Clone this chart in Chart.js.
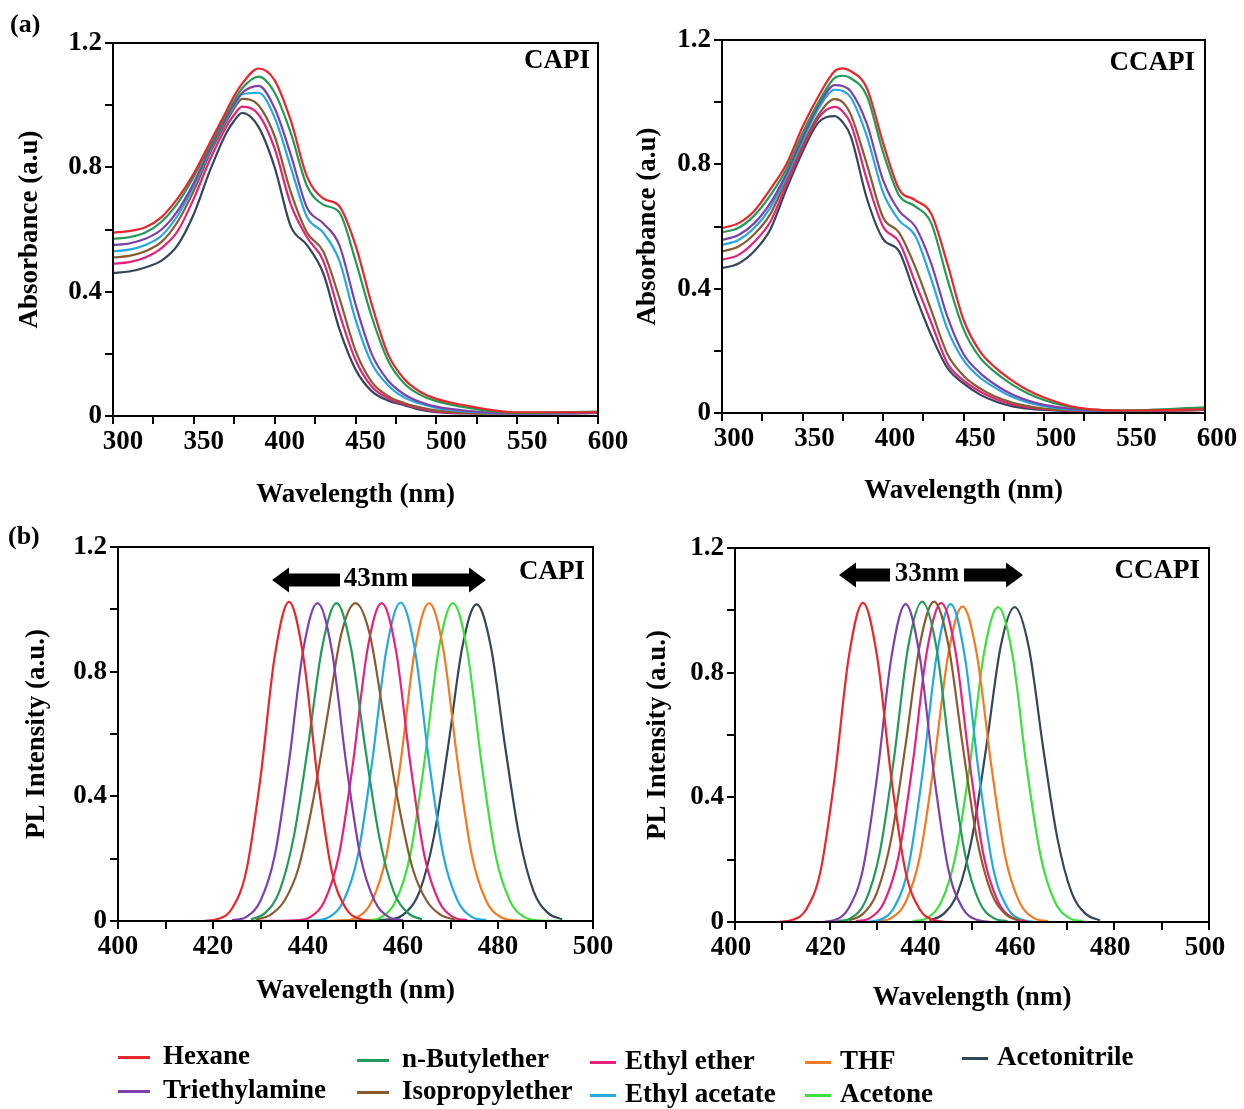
<!DOCTYPE html>
<html>
<head>
<meta charset="utf-8">
<script src="https://cdn.jsdelivr.net/npm/chart.js@4.4.1/dist/chart.umd.min.js"></script>
<style>
  body { margin: 0; background: #fff; width: 1244px; height: 1109px; position: relative; overflow: hidden;
         font-family: "Liberation Serif", "Times New Roman", serif; font-weight: bold; color: #000; }
  .plot { position: absolute; }
  .txt { position: absolute; white-space: nowrap; font-size: 27px; line-height: 1; }
  .swatch { position: absolute; height: 3px; width: 32px; }
  svg { position: absolute; left: 0; top: 0; }
</style>
</head>
<body>
<div class="plot" id="boxAbsCapi"><canvas id="absCapi"></canvas></div>
<div class="plot" id="boxAbsCcapi"><canvas id="absCcapi"></canvas></div>
<div class="plot" id="boxPlCapi"><canvas id="plCapi"></canvas></div>
<div class="plot" id="boxPlCcapi"><canvas id="plCcapi"></canvas></div>
<svg id="arrows" width="1244" height="1109"></svg>
<script>
// ---- data ----
const solvents = ["Hexane", "Triethylamine", "n-Butylether", "Isopropylether", "Ethyl ether",
                  "Ethyl acetate", "THF", "Acetone", "Acetonitrile"];
const solventColors = ["#e8262b", "#8040a8", "#229a58", "#8a5a30", "#e5217a",
                       "#25a8e0", "#f27a22", "#3ee03e", "#34465a"];

// absorbance, wavelength in nm
const absWl = [300, 310, 320, 330, 340, 350, 360, 370, 375, 380, 390, 400, 410, 420, 430, 440, 450, 460, 470, 480, 490, 500, 520, 550, 600];

const absCapiHexane         = [0.59, 0.595, 0.607, 0.64, 0.70, 0.78, 0.88, 0.98, 1.03, 1.07, 1.118, 1.08, 0.95, 0.77, 0.70, 0.675, 0.55, 0.36, 0.20, 0.12, 0.078, 0.055, 0.032, 0.012, 0.012];
const absCapiNButylether    = [0.57, 0.575, 0.59, 0.625, 0.685, 0.77, 0.87, 0.97, 1.015, 1.055, 1.092, 1.04, 0.91, 0.74, 0.68, 0.655, 0.50, 0.32, 0.18, 0.105, 0.068, 0.048, 0.026, 0.01, 0.014];
const absCapiTriethylamine  = [0.55, 0.555, 0.57, 0.60, 0.66, 0.75, 0.86, 0.96, 1.005, 1.04, 1.062, 0.99, 0.84, 0.67, 0.62, 0.55, 0.36, 0.20, 0.115, 0.07, 0.045, 0.03, 0.016, 0.008, 0.01];
const absCapiEthylAcetate   = [0.53, 0.535, 0.55, 0.58, 0.645, 0.74, 0.855, 0.955, 0.998, 1.035, 1.04, 0.96, 0.80, 0.64, 0.59, 0.50, 0.31, 0.17, 0.10, 0.06, 0.04, 0.026, 0.014, 0.008, 0.01];
const absCapiIsopropylether = [0.51, 0.515, 0.53, 0.56, 0.625, 0.725, 0.845, 0.945, 0.99, 1.02, 1.00, 0.90, 0.72, 0.59, 0.53, 0.38, 0.21, 0.11, 0.065, 0.042, 0.028, 0.018, 0.01, 0.008, 0.01];
const absCapiEthylEther     = [0.49, 0.495, 0.51, 0.54, 0.595, 0.70, 0.825, 0.93, 0.97, 0.995, 0.97, 0.86, 0.68, 0.575, 0.50, 0.33, 0.18, 0.095, 0.058, 0.038, 0.024, 0.015, 0.009, 0.008, 0.01];
const absCapiAcetonitrile   = [0.46, 0.465, 0.478, 0.50, 0.55, 0.65, 0.79, 0.91, 0.95, 0.975, 0.93, 0.80, 0.61, 0.55, 0.46, 0.28, 0.15, 0.08, 0.05, 0.035, 0.02, 0.012, 0.008, 0.008, 0.01];

const absCcapiHexane         = [0.595, 0.61, 0.65, 0.72, 0.80, 0.92, 1.02, 1.10, 1.109, 1.10, 1.045, 0.87, 0.72, 0.685, 0.64, 0.48, 0.30, 0.20, 0.145, 0.105, 0.073, 0.05, 0.018, 0.008, 0.012];
const absCcapiNButylether    = [0.581, 0.595, 0.635, 0.70, 0.785, 0.90, 1.00, 1.078, 1.085, 1.077, 1.02, 0.84, 0.70, 0.665, 0.61, 0.43, 0.27, 0.18, 0.13, 0.092, 0.063, 0.042, 0.016, 0.008, 0.018];
const absCcapiTriethylamine  = [0.557, 0.572, 0.61, 0.675, 0.77, 0.885, 0.99, 1.055, 1.052, 1.035, 0.93, 0.75, 0.65, 0.60, 0.48, 0.31, 0.19, 0.13, 0.09, 0.06, 0.04, 0.026, 0.012, 0.007, 0.012];
const absCcapiEthylAcetate   = [0.541, 0.556, 0.595, 0.66, 0.76, 0.875, 0.98, 1.04, 1.036, 1.015, 0.89, 0.71, 0.62, 0.57, 0.43, 0.27, 0.17, 0.115, 0.08, 0.052, 0.034, 0.022, 0.01, 0.007, 0.012];
const absCcapiIsopropylether = [0.52, 0.535, 0.575, 0.64, 0.75, 0.86, 0.96, 1.01, 1.0, 0.96, 0.80, 0.63, 0.58, 0.47, 0.33, 0.19, 0.12, 0.08, 0.052, 0.034, 0.022, 0.014, 0.008, 0.006, 0.01];
const absCcapiEthylEther     = [0.493, 0.508, 0.55, 0.615, 0.735, 0.85, 0.95, 0.985, 0.97, 0.93, 0.75, 0.60, 0.55, 0.42, 0.29, 0.16, 0.105, 0.07, 0.045, 0.028, 0.018, 0.012, 0.007, 0.006, 0.01];
const absCcapiAcetonitrile   = [0.466, 0.48, 0.52, 0.59, 0.72, 0.84, 0.935, 0.955, 0.935, 0.89, 0.69, 0.56, 0.52, 0.38, 0.25, 0.145, 0.095, 0.06, 0.037, 0.022, 0.014, 0.01, 0.006, 0.006, 0.01];

// photoluminescence, [wavelength nm, intensity]
const plCapiHexane = [[418,0],[421,0.006],[424,0.04],[427,0.16],[430,0.46],[433,0.85],[436,1.024],[439,0.85],[442,0.46],[445,0.16],[448,0.04],[451,0.006],[454,0]];
const plCapiTriethylamine = [[424,0.002],[427,0.013],[430,0.065],[433,0.21],[436,0.51],[439,0.87],[442,1.02],[445,0.87],[448,0.51],[451,0.21],[454,0.065],[457,0.013],[460,0.002]];
const plCapiNButylether = [[428,0.005],[431,0.026],[434,0.096],[437,0.27],[440,0.56],[443,0.88],[446,1.02],[449,0.88],[452,0.56],[455,0.27],[458,0.096],[461,0.026],[464,0.005]];
const plCapiIsopropylether = [[429,0.004],[432,0.019],[435,0.064],[438,0.17],[441,0.38],[444,0.65],[447,0.92],[450,1.02],[453,0.92],[456,0.65],[459,0.38],[462,0.17],[465,0.064],[468,0.019],[471,0.004]];
const plCapiEthylEther = [[429,0],[437.5,0.002],[440.5,0.013],[443.5,0.065],[446.5,0.21],[449.5,0.51],[452.5,0.87],[455.5,1.02],[458.5,0.87],[461.5,0.51],[464.5,0.21],[467.5,0.065],[470.5,0.013],[473.5,0.002]];
const plCapiEthylAcetate = [[436,0],[441.5,0.002],[444.5,0.013],[447.5,0.065],[450.5,0.21],[453.5,0.51],[456.5,0.87],[459.5,1.022],[462.5,0.87],[465.5,0.51],[468.5,0.21],[471.5,0.065],[474.5,0.013],[477.5,0.002]];
const plCapiThf = [[438,0],[447.5,0.002],[450.5,0.013],[453.5,0.065],[456.5,0.21],[459.5,0.51],[462.5,0.87],[465.5,1.02],[468.5,0.87],[471.5,0.51],[474.5,0.21],[477.5,0.065],[480.5,0.013],[483.5,0.002],[486,0]];
const plCapiAcetone = [[446,0],[452.5,0.002],[455.5,0.013],[458.5,0.065],[461.5,0.21],[464.5,0.51],[467.5,0.87],[470.5,1.02],[473.5,0.87],[476.5,0.51],[479.5,0.21],[482.5,0.065],[485.5,0.013],[488.5,0.002],[494,0]];
const plCapiAcetonitrile = [[445,0],[457.5,0.005],[460.5,0.026],[463.5,0.095],[466.5,0.27],[469.5,0.56],[472.5,0.88],[475.5,1.016],[478.5,0.88],[481.5,0.56],[484.5,0.27],[487.5,0.095],[490.5,0.026],[493.5,0.005]];

const plCcapiHexane = [[409,0],[412,0.006],[415,0.04],[418,0.16],[421,0.46],[424,0.85],[427,1.024],[430,0.85],[433,0.46],[436,0.16],[439,0.04],[442,0.006],[445,0],[449,0]];
const plCcapiTriethylamine = [[418,0],[421,0.006],[424,0.045],[427,0.17],[430,0.47],[433,0.85],[436,1.02],[439,0.85],[442,0.47],[445,0.17],[448,0.045],[451,0.007],[454,0]];
const plCcapiNButylether = [[421.5,0.002],[424.5,0.013],[427.5,0.066],[430.5,0.22],[433.5,0.52],[436.5,0.88],[439.5,1.028],[442.5,0.88],[445.5,0.52],[448.5,0.22],[451.5,0.066],[454.5,0.013],[457.5,0.002]];
const plCcapiIsopropylether = [[424,0.005],[427,0.026],[430,0.097],[433,0.27],[436,0.57],[439,0.89],[442,1.028],[445,0.89],[448,0.57],[451,0.27],[454,0.097],[457,0.026],[460,0.005]];
const plCcapiEthylEther = [[425.5,0.002],[428.5,0.013],[431.5,0.065],[434.5,0.21],[437.5,0.51],[440.5,0.87],[443.5,1.024],[446.5,0.87],[449.5,0.51],[452.5,0.21],[455.5,0.065],[458.5,0.013],[461.5,0.002]];
const plCcapiEthylAcetate = [[427.5,0],[430.5,0.007],[433.5,0.045],[436.5,0.17],[439.5,0.47],[442.5,0.85],[445.5,1.02],[448.5,0.85],[451.5,0.47],[454.5,0.17],[457.5,0.045],[460.5,0.007],[463.5,0]];
const plCcapiThf = [[430,0.002],[433,0.013],[436,0.064],[439,0.21],[442,0.51],[445,0.86],[448,1.013],[451,0.86],[454,0.51],[457,0.21],[460,0.064],[463,0.013],[466,0.002]];
const plCcapiAcetone = [[437.5,0.002],[440.5,0.013],[443.5,0.064],[446.5,0.21],[449.5,0.5],[452.5,0.86],[455.5,1.01],[458.5,0.86],[461.5,0.5],[464.5,0.21],[467.5,0.064],[470.5,0.013],[473.5,0.002]];
const plCcapiAcetonitrile = [[441,0.005],[444,0.026],[447,0.095],[450,0.27],[453,0.56],[456,0.88],[459,1.01],[462,0.88],[465,0.56],[468,0.27],[471,0.095],[474,0.026],[477,0.005]];

// ---- drawing ----
const FONT = { family: '"Liberation Serif", "Times New Roman", serif', weight: 'bold', size: 27 };
const HALF_LH = 16;

const color = name => solventColors[solvents.indexOf(name)];
const lineSet = (name, points) => ({
  label: name, data: points, borderColor: color(name), borderWidth: 2.2,
  pointRadius: 0, fill: false, cubicInterpolationMode: 'monotone'
});
const absSet = (name, values) => lineSet(name, absWl.map((x, i) => ({ x, y: values[i] })));
const plSet = (name, pairs) => lineSet(name, pairs.map(([x, y]) => ({ x, y })));

const frame = {
  id: 'frame',
  afterDatasetsDraw(chart) {
    const { ctx, chartArea: a } = chart;
    ctx.save();
    ctx.strokeStyle = '#000';
    ctx.lineWidth = 2;
    ctx.strokeRect(a.left, a.top, a.right - a.left, a.bottom - a.top);
    ctx.restore();
  }
};

function makeChart(canvasId, boxId, p, datasets) {
  const left = Math.round(p.yTitleX - HALF_LH);
  const top = p.plot.t - 20;
  const yW = p.plot.l - left;
  const xH = Math.round(p.xTitleY + HALF_LH - p.plot.b);
  const box = document.getElementById(boxId);
  box.style.left = left + 'px';
  box.style.top = top + 'px';
  box.style.width = (p.plot.r + p.padRight - left) + 'px';
  box.style.height = (p.plot.b + xH - top) + 'px';

  new Chart(document.getElementById(canvasId), {
    type: 'line',
    data: { datasets },
    plugins: [frame],
    options: {
      responsive: true, maintainAspectRatio: false, animation: false,
      layout: { padding: { left: 0, top: 20, right: p.padRight, bottom: 0 } },
      plugins: { legend: { display: false }, tooltip: { enabled: false } },
      scales: {
        x: {
          type: 'linear', min: p.xMin, max: p.xMax,
          afterFit: s => { s.height = xH; },
          ticks: {
            stepSize: p.xStep, autoSkip: false, maxRotation: 0, labelOffset: p.labelOffset,
            padding: 2, color: '#000', font: FONT,
            callback: v => (v % p.xMajor === 0 ? String(v) : '')
          },
          grid: { drawOnChartArea: false, color: '#000', lineWidth: 2, tickLength: 8 },
          border: { color: '#000', width: 2 },
          title: { display: true, text: 'Wavelength (nm)', color: '#000', font: FONT, padding: 0 }
        },
        y: {
          min: 0, max: 1.2,
          afterFit: s => { s.width = yW; },
          ticks: {
            stepSize: 0.2, autoSkip: false, padding: 3, color: '#000', font: FONT,
            callback: v => {
              const k = Math.round(v * 10);
              return k % 4 === 0 ? (k === 0 ? '0' : (k / 10).toFixed(1)) : '';
            }
          },
          grid: { drawOnChartArea: false, color: '#000', lineWidth: 2, tickLength: 8 },
          border: { color: '#000', width: 2 },
          title: { display: true, text: p.yTitle, color: '#000', font: FONT, padding: 0 }
        }
      }
    }
  });
}

makeChart('absCapi', 'boxAbsCapi',
  { plot: { l: 113, t: 43, r: 598, b: 416 }, yTitleX: 30, xTitleY: 495, padRight: 40,
    xMin: 300, xMax: 600, xStep: 25, xMajor: 50, labelOffset: 10, yTitle: 'Absorbance (a.u)' },
  [absSet('Hexane', absCapiHexane), absSet('n-Butylether', absCapiNButylether),
   absSet('Triethylamine', absCapiTriethylamine), absSet('Ethyl acetate', absCapiEthylAcetate),
   absSet('Isopropylether', absCapiIsopropylether), absSet('Ethyl ether', absCapiEthylEther),
   absSet('Acetonitrile', absCapiAcetonitrile)]);

makeChart('absCcapi', 'boxAbsCcapi',
  { plot: { l: 722, t: 40, r: 1205, b: 413 }, yTitleX: 648, xTitleY: 491, padRight: 36,
    xMin: 300, xMax: 600, xStep: 25, xMajor: 50, labelOffset: 12, yTitle: 'Absorbance (a.u)' },
  [absSet('Hexane', absCcapiHexane), absSet('n-Butylether', absCcapiNButylether),
   absSet('Triethylamine', absCcapiTriethylamine), absSet('Ethyl acetate', absCcapiEthylAcetate),
   absSet('Isopropylether', absCcapiIsopropylether), absSet('Ethyl ether', absCcapiEthylEther),
   absSet('Acetonitrile', absCcapiAcetonitrile)]);

makeChart('plCapi', 'boxPlCapi',
  { plot: { l: 118, t: 547, r: 593, b: 921 }, yTitleX: 37, xTitleY: 991, padRight: 40,
    xMin: 400, xMax: 500, xStep: 10, xMajor: 20, labelOffset: 0, yTitle: 'PL Intensity (a.u.)' },
  [plSet('Hexane', plCapiHexane), plSet('Triethylamine', plCapiTriethylamine),
   plSet('n-Butylether', plCapiNButylether), plSet('Isopropylether', plCapiIsopropylether),
   plSet('Ethyl ether', plCapiEthylEther), plSet('Ethyl acetate', plCapiEthylAcetate),
   plSet('THF', plCapiThf), plSet('Acetone', plCapiAcetone), plSet('Acetonitrile', plCapiAcetonitrile)]);

makeChart('plCcapi', 'boxPlCcapi',
  { plot: { l: 735, t: 548, r: 1209, b: 922 }, yTitleX: 658, xTitleY: 998, padRight: 34,
    xMin: 400, xMax: 500, xStep: 10, xMajor: 20, labelOffset: -4, yTitle: 'PL Intensity (a.u.)' },
  [plSet('Hexane', plCcapiHexane), plSet('Triethylamine', plCcapiTriethylamine),
   plSet('n-Butylether', plCcapiNButylether), plSet('Isopropylether', plCcapiIsopropylether),
   plSet('Ethyl ether', plCcapiEthylEther), plSet('Ethyl acetate', plCcapiEthylAcetate),
   plSet('THF', plCcapiThf), plSet('Acetone', plCcapiAcetone), plSet('Acetonitrile', plCcapiAcetonitrile)]);

// ---- text overlays ----
function addText(text, x, y, align, size) {
  const d = document.createElement('div');
  d.className = 'txt';
  d.textContent = text;
  if (size) d.style.fontSize = size + 'px';
  d.style.left = x + 'px';
  d.style.top = (y - 15) + 'px';
  if (align === 'right') d.style.transform = 'translateX(-100%)';
  if (align === 'center') d.style.transform = 'translateX(-50%)';
  document.body.appendChild(d);
}

addText('(a)', 10, 26, 'left', 26);
addText('(b)', 8, 538, 'left', 26);
addText('CAPI', 590, 61, 'right');
addText('CCAPI', 1195, 63, 'right');
addText('CAPI', 585, 572, 'right');
addText('CCAPI', 1200, 571, 'right');

// span arrows in panel (b)
const svg = document.getElementById('arrows');
function spanArrow(x1, xa, xb, x2, y, label) {
  const h = 6.5, H = 12.5, head = 17;
  const pts = a => a.map(p => p.join(',')).join(' ');
  const left = [[x1, y], [x1 + head, y - H], [x1 + head, y - h], [xa, y - h], [xa, y + h], [x1 + head, y + h], [x1 + head, y + H]];
  const right = [[x2, y], [x2 - head, y - H], [x2 - head, y - h], [xb, y - h], [xb, y + h], [x2 - head, y + h], [x2 - head, y + H]];
  svg.innerHTML += `<polygon points="${pts(left)}" fill="#000"/><polygon points="${pts(right)}" fill="#000"/>`;
  addText(label, (xa + xb) / 2, y - 1, 'center');
}
spanArrow(272, 340, 412, 486, 580, '43nm');
spanArrow(839, 890, 964, 1023, 575, '33nm');

// legend
const legendSlots = [
  [118, 1057], [118, 1091], [357, 1060], [357, 1092], [590, 1062],
  [590, 1095], [805, 1062], [805, 1095], [962, 1058]
];
solvents.forEach((name, i) => {
  const [x, y] = legendSlots[i];
  const s = document.createElement('div');
  s.className = 'swatch';
  s.style.left = x + 'px';
  s.style.top = (y - 1) + 'px';
  s.style.width = (x < 500 ? 32 : 26) + 'px';
  s.style.background = solventColors[i];
  document.body.appendChild(s);
  addText(name, x + (x < 500 ? 45 : 35), y, 'left');
});
</script>
</body>
</html>
